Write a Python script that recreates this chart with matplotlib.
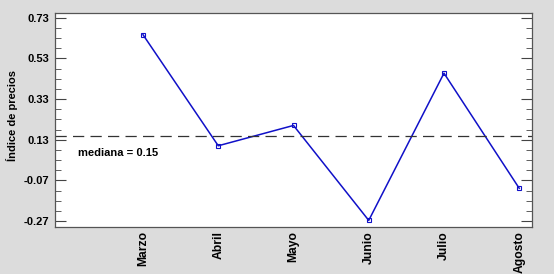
import matplotlib.pyplot as plt
from matplotlib.ticker import FixedLocator

plt.rcParams['font.family'] = ['Liberation Sans', 'DejaVu Sans']

# data
meses = ['Marzo', 'Abril', 'Mayo', 'Junio', 'Julio', 'Agosto']
indice = [0.646, 0.10, 0.20, -0.267, 0.457, -0.109]
mediana = 0.15
yticks = [-0.27, -0.07, 0.13, 0.33, 0.53, 0.73]

fig = plt.figure(figsize=(5.54, 2.74), dpi=100, facecolor='#dcdcdc')
ax = fig.add_axes([55 / 554, 47 / 274, 477 / 554, 214 / 274])
ax.set_facecolor('white')

x = list(range(len(meses)))
ax.plot(x, indice, color='#1010c8', lw=1.1, marker='s', ms=2.5,
        mfc='none', mec='#1010c8', mew=0.8)
ax.axhline(mediana, color='#333333', lw=0.9, ls=(0, (9, 5)))
ax.text(-0.87, mediana - 0.085, 'mediana = %.2f' % mediana,
        fontsize=8, fontweight='bold', va='center', ha='left')

ax.set_xlim(-1.17, 5.17)
ax.set_ylim(-0.2995, 0.753)

ax.set_xticks(x)
ax.set_xticklabels(meses, rotation=90, fontsize=8.7, fontweight='bold')
ax.tick_params(axis='x', length=0, pad=3)

ax.yaxis.set_major_locator(FixedLocator(yticks))
ax.yaxis.set_minor_locator(FixedLocator(
    [-0.27 + 0.05 * i for i in range(21) if i % 4 != 0]))
ax.set_yticklabels(['%.2f' % v for v in yticks], fontsize=8, fontweight='bold')
ax.tick_params(axis='y', which='major', direction='in', length=8,
               right=True, left=True, pad=4, color='#444444')
ax.tick_params(axis='y', which='minor', direction='in', length=4,
               right=True, left=True, color='#444444')
ax.set_ylabel('Índice de precios', fontsize=8, fontweight='bold')
ax.yaxis.set_label_coords(-0.078, 0.52)

for s in ax.spines.values():
    s.set_color('#555555')
    s.set_linewidth(0.9)

fig.savefig('out.png', dpi=100, facecolor=fig.get_facecolor())
